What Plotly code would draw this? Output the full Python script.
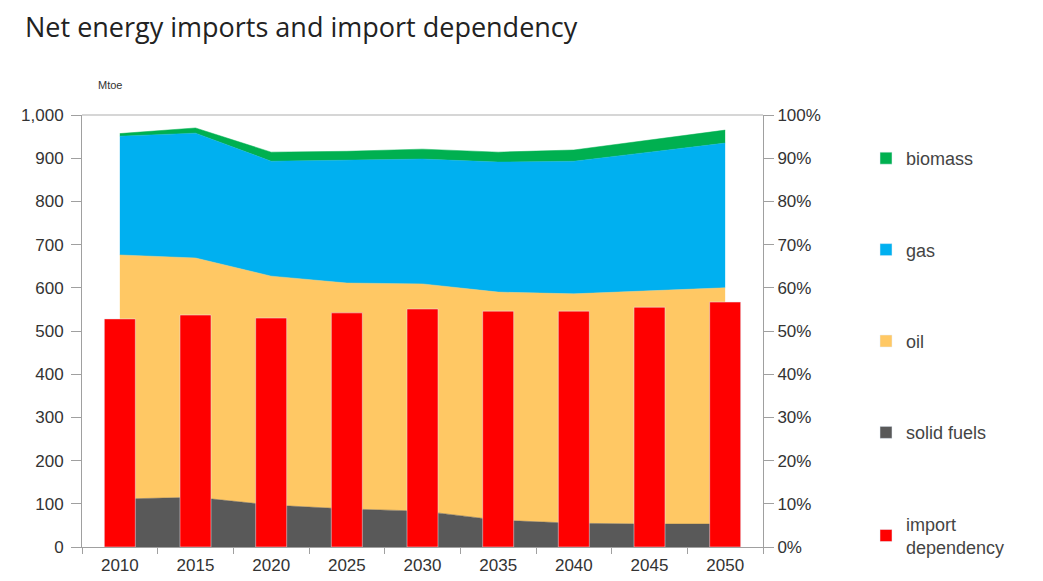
import plotly.graph_objects as go

years = ["2010", "2015", "2020", "2025", "2030", "2035", "2040", "2045", "2050"]
solid_fuels = [111, 115, 97, 88, 83, 62, 55, 53, 53]
oil = [565, 554, 530, 523, 526, 528, 531, 540, 547]
gas = [275, 289, 266, 285, 289, 301, 307, 321, 335]
biomass = [6, 12, 21, 20, 23, 23, 26, 28, 30]
import_dependency = [52.8, 53.7, 53.0, 54.2, 55.1, 54.6, 54.6, 55.5, 56.7]

left_ticks = [0, 100, 200, 300, 400, 500, 600, 700, 800, 900, 1000]
left_tick_text = ["0", "100", "200", "300", "400", "500", "600", "700", "800", "900", "1,000"]
right_ticks = [0, 10, 20, 30, 40, 50, 60, 70, 80, 90, 100]
right_tick_text = [f"{v}%" for v in right_ticks]

FONT = "Liberation Sans, Arial, sans-serif"

# page body has an 8px margin; layout numbers below compensate for it
W, H = 1035, 573
L, T, PW, PH = 74, 107, 681, 432

fig = go.Figure()

series = [
    ("solid fuels", solid_fuels, "#595959"),
    ("oil", oil, "#FFC864"),
    ("gas", gas, "#00B0F0"),
    ("biomass", biomass, "#00B050"),
]
for name, vals, color in series:
    fig.add_trace(go.Scatter(
        x=years, y=vals, name=name, stackgroup="one", mode="lines",
        line=dict(width=0.5, color=color), fillcolor=color,
        showlegend=False, yaxis="y",
    ))

fig.add_trace(go.Bar(
    x=years, y=import_dependency, name="import<br>dependency", marker_color="#FF0000",
    width=0.41, yaxis="y2", legendgroup="dep", legendrank=5,
))

# legend swatches (square markers like the reference)
for rank, (name, vals, color) in enumerate(reversed(series), start=1):
    fig.add_trace(go.Bar(
        x=[None], y=[None], name=name, marker_color=color, legendgroup=name,
        legendrank=rank, yaxis="y", showlegend=True,
    ))

fig.update_layout(
    width=W, height=H,
    margin=dict(l=L, r=W - L - PW, t=T, b=H - T - PH, autoexpand=False),
    paper_bgcolor="white", plot_bgcolor="white",
    font=dict(family=FONT, size=17, color="#333333"),
    title=dict(text="Net energy imports and import dependency", xref="container", yref="container",
               x=17 / W, y=1 - 20 / H, xanchor="left", yanchor="middle",
               font=dict(family="Open Sans, Liberation Sans, sans-serif", size=27, color="#222222")),
    showlegend=True,
    barmode="overlay",
    legend=dict(x=(866 - 82) / PW, y=1 - (140 - 115) / PH, xanchor="left", yanchor="top",
                tracegroupgap=65, font=dict(size=18, color="#444444"),
                bgcolor="rgba(0,0,0,0)", itemwidth=30, maxheight=1000),
    xaxis=dict(type="category", range=[-0.5, 8.5], showline=True, linecolor="#a0a0a0", linewidth=1,
               ticks="outside", ticklen=6, tickcolor="#a0a0a0", tickson="boundaries",
               ticklabelstandoff=3, automargin=False,
               showgrid=False, tickfont=dict(size=17, color="#333333")),
    yaxis=dict(range=[0, 1000], tickvals=left_ticks, ticktext=left_tick_text, showline=True,
               linecolor="#a0a0a0", ticks="outside", ticklen=10, tickcolor="#a0a0a0",
               ticklabelstandoff=4, automargin=False,
               showgrid=False, zeroline=False, tickfont=dict(size=17, color="#333333")),
    yaxis2=dict(range=[0, 100], tickvals=right_ticks, ticktext=right_tick_text, overlaying="y",
                side="right", showline=True, linecolor="#a0a0a0", ticks="outside", ticklen=10,
                tickcolor="#a0a0a0", showgrid=False, zeroline=False, automargin=False,
                tickfont=dict(size=17, color="#333333")),
    shapes=[dict(type="line", xref="paper", yref="paper", x0=0, x1=1, y0=1, y1=1,
                 line=dict(color="#c8c8c8", width=1.5))],
    annotations=[dict(text="Mtoe", xref="paper", yref="paper", x=(96 - 82) / PW, y=1 + 30 / PH,
                      xanchor="left", yanchor="middle", showarrow=False,
                      font=dict(size=11, color="#333333"))],
)

fig.write_html("out.html")
